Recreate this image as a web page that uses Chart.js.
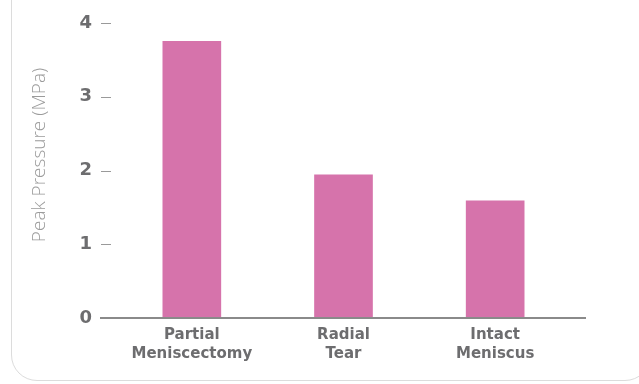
<!DOCTYPE html>
<html>
<head>
<meta charset="utf-8">
<script src="https://cdn.jsdelivr.net/npm/chart.js@4.4.1/dist/chart.umd.min.js"></script>
<style>
	html, body { margin: 0; padding: 0; background: #fff; }
	#wrap { position: relative; width: 639px; height: 384px; overflow: hidden; }
	#card {
		position: absolute; left: 11px; top: -30px; width: 640px; height: 411px;
		border: 1px solid #dcdcdc; border-radius: 0 0 26px 26px; box-sizing: border-box;
	}
	canvas { position: absolute; left: 0; top: 0; }
</style>
</head>
<body>
<div id="wrap">
	<div id="card"></div>
	<canvas id="bar-chart" width="639" height="384"></canvas>
</div>
<script>
let categories = [["Partial", "Meniscectomy"], ["Radial", "Tear"], ["Intact", "Meniscus"]];
let peakPressure = [3.75, 1.94, 1.59];
let yTicks = [0, 1, 2, 3, 4];
let yTitle = "Peak Pressure (MPa)";

let barColor = "#d673ab";
let textColor = "#6d6d6f";

// short dashes next to the y labels, the long base line and the y title
let axisMarks = {
	id: 'axisMarks',
	afterDraw(chart) {
		let ctx = chart.ctx;
		let area = chart.chartArea;
		let y = chart.scales.y;
		ctx.save();
		ctx.strokeStyle = "#9a9a9a";
		ctx.lineWidth = 1;
		yTicks.forEach(function(v) {
			if (v === 0) return;
			let py = Math.round(y.getPixelForValue(v)) + 0.5;
			ctx.beginPath();
			ctx.moveTo(area.left - 15, py);
			ctx.lineTo(area.left - 5, py);
			ctx.stroke();
		});
		ctx.strokeStyle = "#8a8a8a";
		ctx.lineWidth = 2;
		let p0 = y.getPixelForValue(0);
		ctx.beginPath();
		ctx.moveTo(area.left - 16, p0);
		ctx.lineTo(area.right + 15, p0);
		ctx.stroke();

		ctx.translate(40, 155);
		ctx.rotate(-Math.PI / 2);
		ctx.fillStyle = "#9b9b9b";
		ctx.font = "300 19px 'Open Sans'";
		ctx.textAlign = "center";
		ctx.textBaseline = "middle";
		ctx.fillText(yTitle, 0, 0);
		ctx.restore();
	}
};

let chart = new Chart(document.getElementById("bar-chart"), {
	type: 'bar',
	data: {
		labels: categories,
		datasets: [{
			data: peakPressure,
			backgroundColor: barColor,
			barThickness: 58
		}]
	},
	options: {
		responsive: false,
		animation: false,
		layout: { padding: { top: 23, right: 68, left: 0, bottom: 0 } },
		plugins: { legend: { display: false }, tooltip: { enabled: false } },
		scales: {
			x: {
				grid: { display: false },
				border: { display: false },
				ticks: {
					color: textColor,
					font: { family: "DejaVu Sans", size: 15, weight: "bold", lineHeight: 1.25 },
					padding: 0,
					maxRotation: 0
				},
				afterFit(scale) { scale.height = 66; scale.paddingLeft = 0; scale.paddingRight = 0; }
			},
			y: {
				min: 0,
				max: 4,
				grid: { display: false },
				border: { display: false },
				afterBuildTicks(scale) { scale.ticks = yTicks.map(v => ({ value: v })); },
				ticks: {
					color: textColor,
					font: { family: "DejaVu Sans", size: 18, weight: "bold" },
					padding: 16
				},
				afterFit(scale) { scale.width = 116; scale.paddingTop = 0; scale.paddingBottom = 0; }
			}
		}
	},
	plugins: [axisMarks]
});
</script>
</body>
</html>
